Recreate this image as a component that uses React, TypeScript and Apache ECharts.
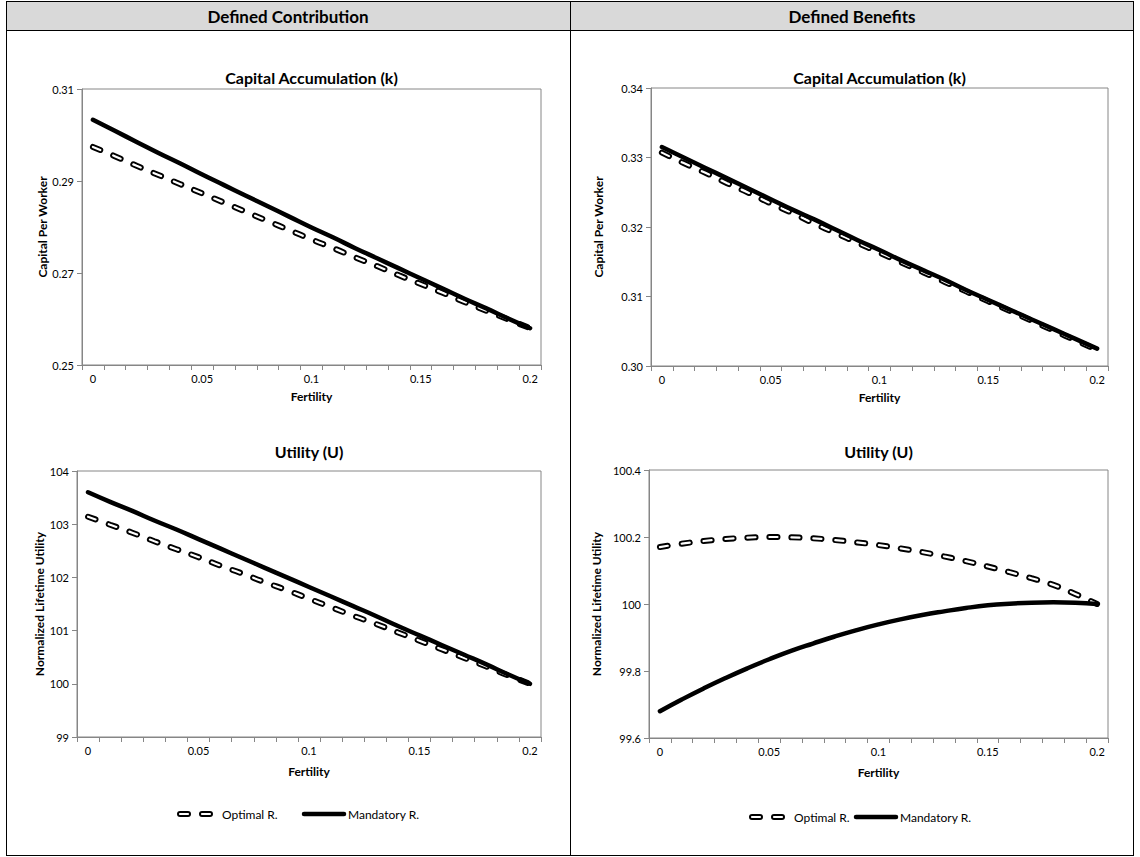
import React, { useEffect, useRef } from "react";
import * as echarts from "echarts";

const fertility = ["0", "0.01", "0.02", "0.03", "0.04", "0.05", "0.06", "0.07", "0.08", "0.09", "0.1",
  "0.11", "0.12", "0.13", "0.14", "0.15", "0.16", "0.17", "0.18", "0.19", "0.2"];

// Defined Contribution - Capital per worker
const dcCapitalOptimal = [0.2974, 0.2954, 0.2933, 0.2913, 0.2893, 0.2873, 0.2853, 0.2833, 0.2813, 0.2793, 0.2773,
  0.2754, 0.2734, 0.2715, 0.2695, 0.2676, 0.2657, 0.2637, 0.2618, 0.2599, 0.2580];
const dcCapitalMandatory = [0.3033, 0.3009, 0.2985, 0.2961, 0.2938, 0.2914, 0.2891, 0.2868, 0.2845, 0.2822, 0.2799,
  0.2777, 0.2754, 0.2732, 0.2710, 0.2688, 0.2666, 0.2644, 0.2623, 0.2601, 0.2580];

// Defined Benefits - Capital per worker
const dbCapitalOptimal = [0.3307, 0.3292, 0.3278, 0.3263, 0.3249, 0.3234, 0.3220, 0.3205, 0.3191, 0.3177, 0.3163,
  0.3149, 0.3135, 0.3121, 0.3107, 0.3093, 0.3079, 0.3065, 0.3051, 0.3037, 0.3023];
const dbCapitalMandatory = [0.3315, 0.3300, 0.3285, 0.3270, 0.3255, 0.3240, 0.3225, 0.3211, 0.3196, 0.3181, 0.3167,
  0.3152, 0.3138, 0.3124, 0.3109, 0.3095, 0.3081, 0.3067, 0.3053, 0.3039, 0.3025];

// Defined Contribution - Utility
const dcUtilityOptimal = [103.14, 102.99, 102.84, 102.68, 102.53, 102.38, 102.22, 102.07, 101.91, 101.76, 101.60,
  101.44, 101.28, 101.13, 100.97, 100.81, 100.65, 100.49, 100.33, 100.16, 100.00];
const dcUtilityMandatory = [103.60, 103.42, 103.25, 103.07, 102.90, 102.72, 102.54, 102.36, 102.18, 102.00, 101.82,
  101.64, 101.46, 101.28, 101.09, 100.91, 100.73, 100.55, 100.37, 100.18, 100.00];

// Defined Benefits - Utility
const dbUtilityOptimal = [100.170, 100.180, 100.188, 100.194, 100.198, 100.200, 100.199, 100.196, 100.191, 100.184, 100.176,
  100.166, 100.155, 100.142, 100.128, 100.112, 100.095, 100.077, 100.057, 100.030, 100.000];
const dbUtilityMandatory = [99.680, 99.715, 99.748, 99.779, 99.808, 99.835, 99.860, 99.882, 99.903, 99.922, 99.939,
  99.954, 99.967, 99.978, 99.988, 99.996, 100.001, 100.004, 100.005, 100.004, 100.000];

const columnTitles = ["Defined Contribution", "Defined Benefits"];
const chartTitles = ["Capital Accumulation (k)", "Capital Accumulation (k)", "Utility (U)", "Utility (U)"];
const yNames = ["Capital Per Worker", "Capital Per Worker", "Normalized Lifetime Utility", "Normalized Lifetime Utility"];
const xName = "Fertility";
const seriesNames = ["Optimal R.", "Mandatory R."];

const FONT = "Lato, 'Open Sans', sans-serif";
const AXIS_GRAY = "#868686";
const DASH = [8, 14];
const DASH_OUTER = 6;
const DASH_INNER = 2.2;

export default function App() {
  const ref = useRef<HTMLDivElement>(null);

  useEffect(() => {
    if (!ref.current) return;
    const chart = echarts.init(ref.current, undefined, { renderer: "svg" });

    const grids = [
      { left: 82, top: 89, width: 459, height: 276 },
      { left: 651, top: 88, width: 457, height: 278 },
      { left: 77, top: 471, width: 464, height: 266 },
      { left: 649, top: 470, width: 459, height: 268 },
    ];
    const yCfg = [
      { min: 0.25, max: 0.31, interval: 0.02, fmt: (v: number) => v.toFixed(2), gap: 34 },
      { min: 0.3, max: 0.34, interval: 0.01, fmt: (v: number) => v.toFixed(2), gap: 47 },
      { min: 99, max: 104, interval: 1, fmt: (v: number) => String(Math.round(v)), gap: 30 },
      { min: 99.6, max: 100.4, interval: 0.2, fmt: (v: number) => String(+v.toFixed(1)), gap: 47 },
    ];
    const optimal = [dcCapitalOptimal, dbCapitalOptimal, dcUtilityOptimal, dbUtilityOptimal];
    const mandatory = [dcCapitalMandatory, dbCapitalMandatory, dcUtilityMandatory, dbUtilityMandatory];

    const series: any[] = [];
    grids.forEach((_, i) => {
      series.push({
        type: "line", name: seriesNames[0], xAxisIndex: i, yAxisIndex: i, data: optimal[i],
        showSymbol: false, smooth: true, silent: true, z: 2,
        lineStyle: { color: "#000", width: DASH_OUTER, type: DASH, cap: "round" },
      });
      series.push({
        type: "line", name: seriesNames[0] + " ", xAxisIndex: i, yAxisIndex: i, data: optimal[i],
        showSymbol: false, smooth: true, silent: true, z: 3,
        lineStyle: { color: "#fff", width: DASH_INNER, type: DASH, cap: "round" },
      });
      series.push({
        type: "line", name: seriesNames[1], xAxisIndex: i, yAxisIndex: i, data: mandatory[i],
        showSymbol: false, smooth: true, silent: true, z: 4,
        lineStyle: { color: "#000", width: 4.5, cap: "round" },
      });
    });

    const legend = (x0: number, y: number, gap: number) => {
      const children: any[] = [
        { type: "line", shape: { x1: x0 + 3, y1: y, x2: x0 + 42, y2: y }, style: { stroke: "#000", lineWidth: DASH_OUTER, lineDash: DASH, lineCap: "round" } },
        { type: "line", shape: { x1: x0 + 3, y1: y, x2: x0 + 42, y2: y }, style: { stroke: "#fff", lineWidth: DASH_INNER, lineDash: DASH, lineCap: "round" } },
        { type: "text", x: x0 + 45, y, style: { text: seriesNames[0], fontSize: 12, fontFamily: FONT, fill: "#000", align: "left", verticalAlign: "middle" } },
      ];
      const x1 = x0 + 45 + 56 + gap;
      children.push(
        { type: "line", shape: { x1, y1: y, x2: x1 + 40, y2: y }, style: { stroke: "#000", lineWidth: 4.5, lineCap: "round" } },
        { type: "text", x: x1 + 44, y, style: { text: seriesNames[1], fontSize: 12, fontFamily: FONT, fill: "#000", align: "left", verticalAlign: "middle" } },
      );
      return children;
    };

    const titleCenters = [
      [311.5, 77], [879.5, 77], [309, 451], [878.5, 451],
    ];

    const graphic: any[] = [
      { type: "rect", shape: { x: 6, y: 1, width: 1127, height: 29 }, style: { fill: "#d9d9d9" }, z: -10 },
      { type: "line", shape: { x1: 6, y1: 1.5, x2: 1133.5, y2: 1.5 }, style: { stroke: "#000", lineWidth: 1 } },
      { type: "line", shape: { x1: 6, y1: 30.5, x2: 1133.5, y2: 30.5 }, style: { stroke: "#000", lineWidth: 1 } },
      { type: "line", shape: { x1: 6, y1: 855.5, x2: 1133.5, y2: 855.5 }, style: { stroke: "#000", lineWidth: 1 } },
      { type: "line", shape: { x1: 6.5, y1: 1, x2: 6.5, y2: 856 }, style: { stroke: "#000", lineWidth: 1 } },
      { type: "line", shape: { x1: 570.5, y1: 1, x2: 570.5, y2: 856 }, style: { stroke: "#000", lineWidth: 1 } },
      { type: "line", shape: { x1: 1133.5, y1: 1, x2: 1133.5, y2: 856 }, style: { stroke: "#000", lineWidth: 1 } },
      { type: "text", x: 288, y: 16, style: { text: columnTitles[0], fontSize: 17, fontWeight: "bold", fontFamily: FONT, fill: "#000", align: "center", verticalAlign: "middle" } },
      { type: "text", x: 852, y: 16, style: { text: columnTitles[1], fontSize: 17, fontWeight: "bold", fontFamily: FONT, fill: "#000", align: "center", verticalAlign: "middle" } },
      ...titleCenters.map((c, i) => ({
        type: "text", x: c[0], y: c[1],
        style: { text: chartTitles[i], fontSize: 16, fontWeight: "bold", fontFamily: FONT, fill: "#000", align: "center", verticalAlign: "middle" },
      })),
      ...legend(177, 814, 26),
      ...legend(749, 817, 6),
    ];

    chart.setOption({
      animation: false,
      backgroundColor: "#fff",
      grid: grids.map((g) => ({ ...g, show: true, borderColor: AXIS_GRAY, borderWidth: 1, backgroundColor: "transparent" })),
      xAxis: grids.map((_, i) => ({
        type: "category", gridIndex: i, data: fertility, boundaryGap: true,
        axisLine: { show: true, lineStyle: { color: AXIS_GRAY, width: 1 } },
        axisTick: { show: true, interval: 0, length: 5, lineStyle: { color: AXIS_GRAY } },
        axisLabel: { interval: 4, margin: 8, fontSize: 11, color: "#000", fontFamily: FONT },
        splitLine: { show: false },
        name: xName, nameLocation: "middle", nameGap: i < 2 ? 25 : 28,
        nameTextStyle: { fontSize: 12, fontWeight: "bold", color: "#000", fontFamily: FONT },
      })),
      yAxis: grids.map((_, i) => ({
        type: "value", gridIndex: i, min: yCfg[i].min, max: yCfg[i].max, interval: yCfg[i].interval,
        axisLine: { show: true, lineStyle: { color: AXIS_GRAY, width: 1 } },
        axisTick: { show: true, length: 5, lineStyle: { color: AXIS_GRAY } },
        axisLabel: { margin: 8, fontSize: 11, color: "#000", fontFamily: FONT, formatter: yCfg[i].fmt },
        splitLine: { show: false },
        name: yNames[i], nameLocation: "middle", nameGap: yCfg[i].gap,
        nameTextStyle: { fontSize: 12, fontWeight: "bold", color: "#000", fontFamily: FONT },
      })),
      series,
      graphic,
    });

    return () => chart.dispose();
  }, []);

  return <div ref={ref} style={{ position: "absolute", left: 0, top: 0, width: 1140, height: 857 }} />;
}
